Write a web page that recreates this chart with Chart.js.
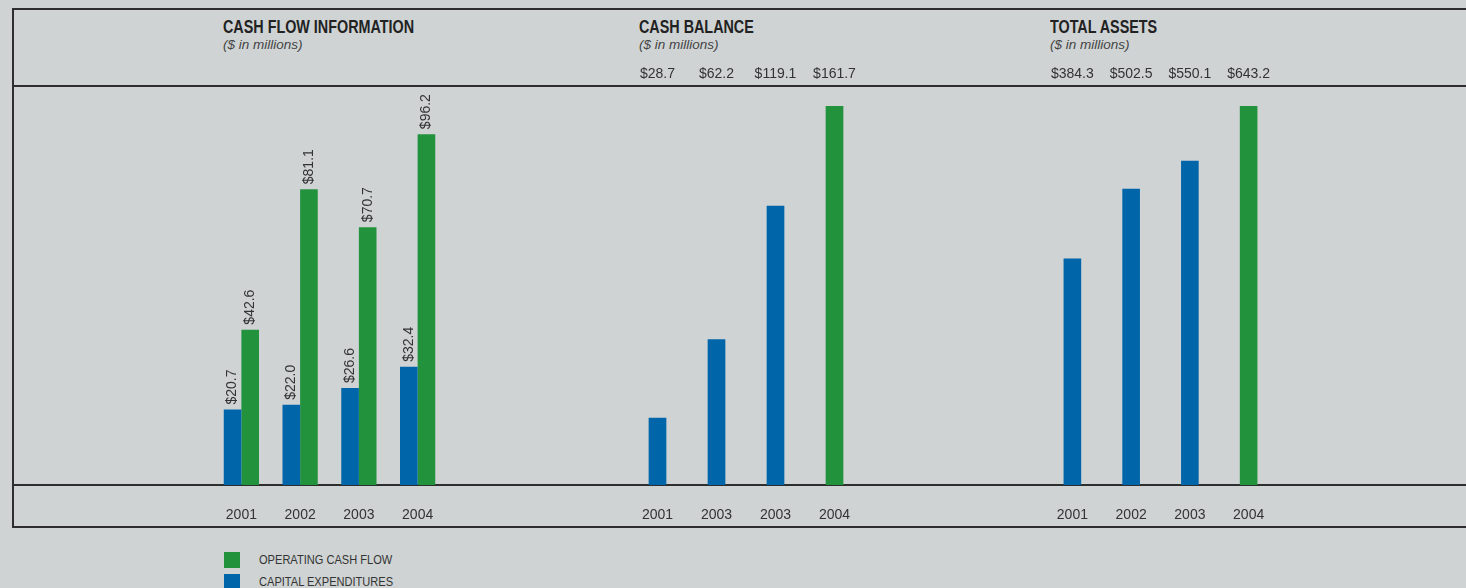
<!DOCTYPE html>
<html>
<head>
<meta charset="utf-8">
<script src="https://cdn.jsdelivr.net/npm/chart.js@4/dist/chart.umd.min.js"></script>
<style>
  body { margin: 0; width: 1466px; height: 588px; background: #cfd3d4; position: relative; overflow: hidden; font-family: "Liberation Sans", Arial, sans-serif; }
  .line { position: absolute; background: #2e2e2e; }
  .title { position: absolute; font-weight: bold; font-size: 17.5px; color: #222; white-space: nowrap; transform: scaleX(0.82); transform-origin: left top; }
  .sub { position: absolute; font-style: italic; font-size: 13.5px; color: #444; white-space: nowrap; }
  canvas { position: absolute; }
  .legend { position: absolute; left: 224px; top: 552px; }
  .legend div { height: 22px; position: relative; }
  .legend span.box { position: absolute; left: 0; top: 0; width: 16px; height: 16px; }
  .legend span.txt { position: absolute; left: 35px; top: 0; line-height: 16px; font-size: 13.5px; color: #333; white-space: nowrap; transform: scaleX(0.82); transform-origin: left center; }
</style>
</head>
<body>
<div class="line" style="left:12px; top:8px; width:1454px; height:2px;"></div>
<div class="line" style="left:12px; top:8px; width:2px; height:520px;"></div>
<div class="line" style="left:12px; top:85px; width:1454px; height:2px;"></div>
<div class="line" style="left:12px; top:484px; width:1454px; height:2px;"></div>
<div class="line" style="left:12px; top:526px; width:1454px; height:2px;"></div>

<div class="title" style="left:223px; top:17px;">CASH FLOW INFORMATION</div>
<div class="sub" style="left:223px; top:37px;">($ in millions)</div>
<div class="title" style="left:639px; top:17px;">CASH BALANCE</div>
<div class="sub" style="left:639px; top:37px;">($ in millions)</div>
<div class="title" style="left:1050px; top:17px;">TOTAL ASSETS</div>
<div class="sub" style="left:1050px; top:37px;">($ in millions)</div>

<canvas id="flow" width="235" height="441" style="left:212px; top:86px;"></canvas>
<canvas id="balance" width="236" height="471" style="left:628px; top:56px;"></canvas>
<canvas id="assets" width="235" height="471" style="left:1043px; top:56px;"></canvas>

<div class="legend" id="legend"></div>

<script>
// data
const years = ['2001', '2002', '2003', '2004'];
const balanceYears = ['2001', '2003', '2003', '2004'];
const capitalExpenditures = [20.7, 22.0, 26.6, 32.4];
const operatingCashFlow = [42.6, 81.1, 70.7, 96.2];
const cashBalance = [28.7, 62.2, 119.1, 161.7];
const totalAssets = [384.3, 502.5, 550.1, 643.2];

const blue = '#0066a9';
const green = '#23923d';
const money = v => '$' + v.toFixed(1);

// rotated value labels above the cash flow bars
const barLabels = {
    id: 'barLabels',
    afterDatasetsDraw(chart) {
        const ctx = chart.ctx;
        chart.data.datasets.forEach((ds, i) => {
            chart.getDatasetMeta(i).data.forEach((bar, j) => {
                ctx.save();
                ctx.translate(bar.x, bar.y - 5);
                ctx.rotate(-Math.PI / 2);
                ctx.font = '14px "Liberation Sans", Arial, sans-serif';
                ctx.fillStyle = '#333';
                ctx.textAlign = 'left';
                ctx.textBaseline = 'middle';
                ctx.fillText(money(ds.data[j]), 0, 0);
                ctx.restore();
            });
        });
    }
};

const tickFont = { family: '"Liberation Sans", Arial, sans-serif', size: 14 };

// tick length (not padding) pushes the years down, padding would shrink the plot sideways
function bottomAxis() {
    return {
        type: 'category',
        position: 'bottom',
        offset: true,
        grid: { display: false, drawTicks: true, tickLength: 20 },
        border: { display: false },
        ticks: { color: '#333', font: tickFont, padding: 2, maxRotation: 0, autoSkip: false },
        afterFit: s => { s.height = 42; }
    };
}

function topAxis(values) {
    return {
        type: 'category',
        position: 'top',
        labels: values.map(money),
        offset: true,
        grid: { display: false, drawTicks: false },
        border: { display: false },
        ticks: { color: '#333', font: tickFont, padding: 3, maxRotation: 0, autoSkip: false },
        afterFit: s => { s.height = 30; }
    };
}

const baseOptions = {
    responsive: false,
    animation: false,
    layout: { padding: 0 },
    plugins: { legend: { display: false }, tooltip: { enabled: false } }
};

let flowChart = new Chart(document.getElementById('flow'), {
    type: 'bar',
    data: {
        labels: years,
        datasets: [
            { label: 'CAPITAL EXPENDITURES', data: capitalExpenditures, backgroundColor: blue, categoryPercentage: 0.6, barPercentage: 1 },
            { label: 'OPERATING CASH FLOW', data: operatingCashFlow, backgroundColor: green, categoryPercentage: 0.6, barPercentage: 1 }
        ]
    },
    options: Object.assign({}, baseOptions, {
        scales: {
            x: bottomAxis(),
            y: { display: false, min: 0, max: 109.4 }
        }
    }),
    plugins: [barLabels]
});

function singleChart(id, labels, values, max) {
    return new Chart(document.getElementById(id), {
        type: 'bar',
        data: {
            labels: labels,
            datasets: [{
                data: values,
                backgroundColor: values.map((v, i) => i === values.length - 1 ? green : blue),
                categoryPercentage: 0.6,
                barPercentage: 0.5
            }]
        },
        options: Object.assign({}, baseOptions, {
            scales: {
                x: bottomAxis(),
                x2: topAxis(values),
                y: { display: false, min: 0, max: max }
            }
        })
    });
}

let balanceChart = singleChart('balance', balanceYears, cashBalance, 170.2);
let assetsChart = singleChart('assets', years, totalAssets, 677);

// legend, green first like the print
const legend = document.getElementById('legend');
flowChart.data.datasets.slice().reverse().forEach(ds => {
    const row = document.createElement('div');
    row.innerHTML = `<span class="box" style="background:${ds.backgroundColor}"></span><span class="txt">${ds.label}</span>`;
    legend.append(row);
});
</script>
</body>
</html>
